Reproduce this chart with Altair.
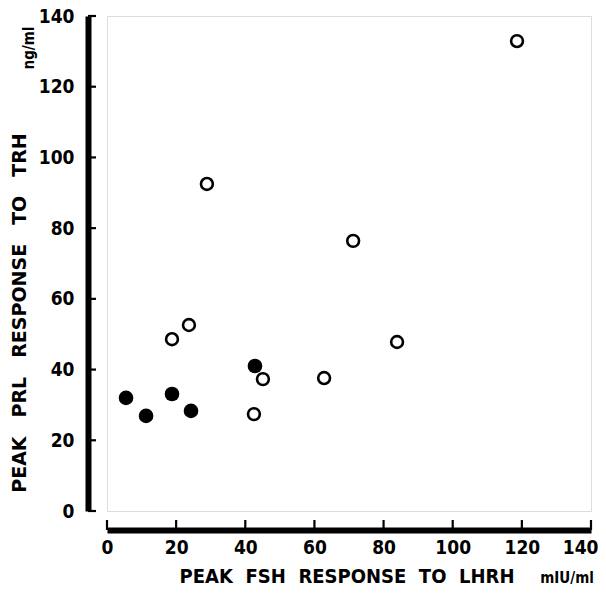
import altair as alt
import pandas as pd

# data
filled_x = [5.5, 11.3, 18.8, 24.3, 42.8]
filled_y = [32.0, 26.9, 33.1, 28.3, 41.0]
open_x = [18.8, 23.7, 45.1, 42.5, 28.9, 62.8, 71.2, 83.9, 118.6]
open_y = [48.6, 52.6, 37.3, 27.4, 92.5, 37.6, 76.4, 47.8, 132.9]
tick_values = [0, 20, 40, 60, 80, 100, 120, 140]

FONT = "DejaVu Sans Condensed, Liberation Sans Narrow, Liberation Sans, sans-serif"
WIDE = "DejaVu Sans, Liberation Sans, sans-serif"

filled = pd.DataFrame({"x": filled_x, "y": filled_y})
opened = pd.DataFrame({"x": open_x, "y": open_y})
ticks = pd.DataFrame({"v": tick_values})

xs = alt.Scale(domain=[0, 140], nice=False, zero=True)
ys = alt.Scale(domain=[0, 140], nice=False, zero=True)

xaxis = alt.Axis(values=tick_values, offset=19, domainWidth=6, domainColor="black",
                 domainCap="butt", ticks=False, grid=False, labelPadding=8,
                 labelFlush=False, labelOverlap=False,
                 labelAlign=alt.ExprRef(expr="datum.value == 140 ? 'right' : 'center'"),
                 labelOffset=alt.ExprRef(expr="datum.value == 140 ? 7 : 0"),
                 labelFontSize=19, labelFontWeight="bold", labelFont=FONT,
                 labelColor="black", title=None)
yaxis = alt.Axis(values=tick_values, offset=19, domainWidth=6, domainColor="black",
                 domainCap="butt", ticks=False, grid=False, labelPadding=14,
                 labelFlush=False, labelOverlap=False,
                 labelFontSize=19, labelFontWeight="bold", labelFont=FONT,
                 labelColor="black", title=None)

base_filled = alt.Chart(filled).mark_point(shape="circle", filled=True, fill="black",
                                           opacity=1, size=215).encode(
    x=alt.X("x:Q", scale=xs, axis=xaxis),
    y=alt.Y("y:Q", scale=ys, axis=yaxis),
)
base_open = alt.Chart(opened).mark_point(shape="circle", filled=False, stroke="black",
                                         strokeWidth=2.6, opacity=1, size=140).encode(
    x=alt.X("x:Q", scale=xs),
    y=alt.Y("y:Q", scale=ys),
)

yticks = alt.Chart(ticks).mark_rule(color="black", strokeWidth=2.2).encode(
    y=alt.Y("v:Q", scale=ys), x=alt.value(-19), x2=alt.value(-11)
)
xticks = alt.Chart(ticks).mark_rule(color="black", strokeWidth=2.2).encode(
    x=alt.X("v:Q", scale=xs), y=alt.value(514), y2=alt.value(504)
)

one = pd.DataFrame({"a": [0]})

def label(text, x, y, size, angle=0, font=FONT):
    return alt.Chart(one).mark_text(text=text, font=font, fontSize=size, angle=angle,
                                    fontWeight="bold",
                                    color="black", align="center", baseline="middle").encode(
        x=alt.value(x), y=alt.value(y))

YSP = "\u2003"
XSP = "\u2002\u2009"
ytitle = label(YSP.join(["PEAK", "PRL", "RESPONSE", "TO", "TRH"]), -87, 297, 19, 270, WIDE)
yunit = label("ng/ml", -78, 32, 15, 270)
xtitle = label(XSP.join(["PEAK", "FSH", "RESPONSE", "TO", "LHRH"]), 240, 561, 20)
xunit = label("mIU/ml", 460, 562, 15)

chart = alt.layer(base_filled, base_open, yticks, xticks, ytitle, yunit, xtitle, xunit).properties(
    width=484, height=495,
    padding={"left": 99, "top": 8, "right": 7, "bottom": 75},
    autosize="none",
).configure_view(stroke=None).configure(background="white")

chart.save("out.html", embed_options={"renderer": "svg", "actions": False})
